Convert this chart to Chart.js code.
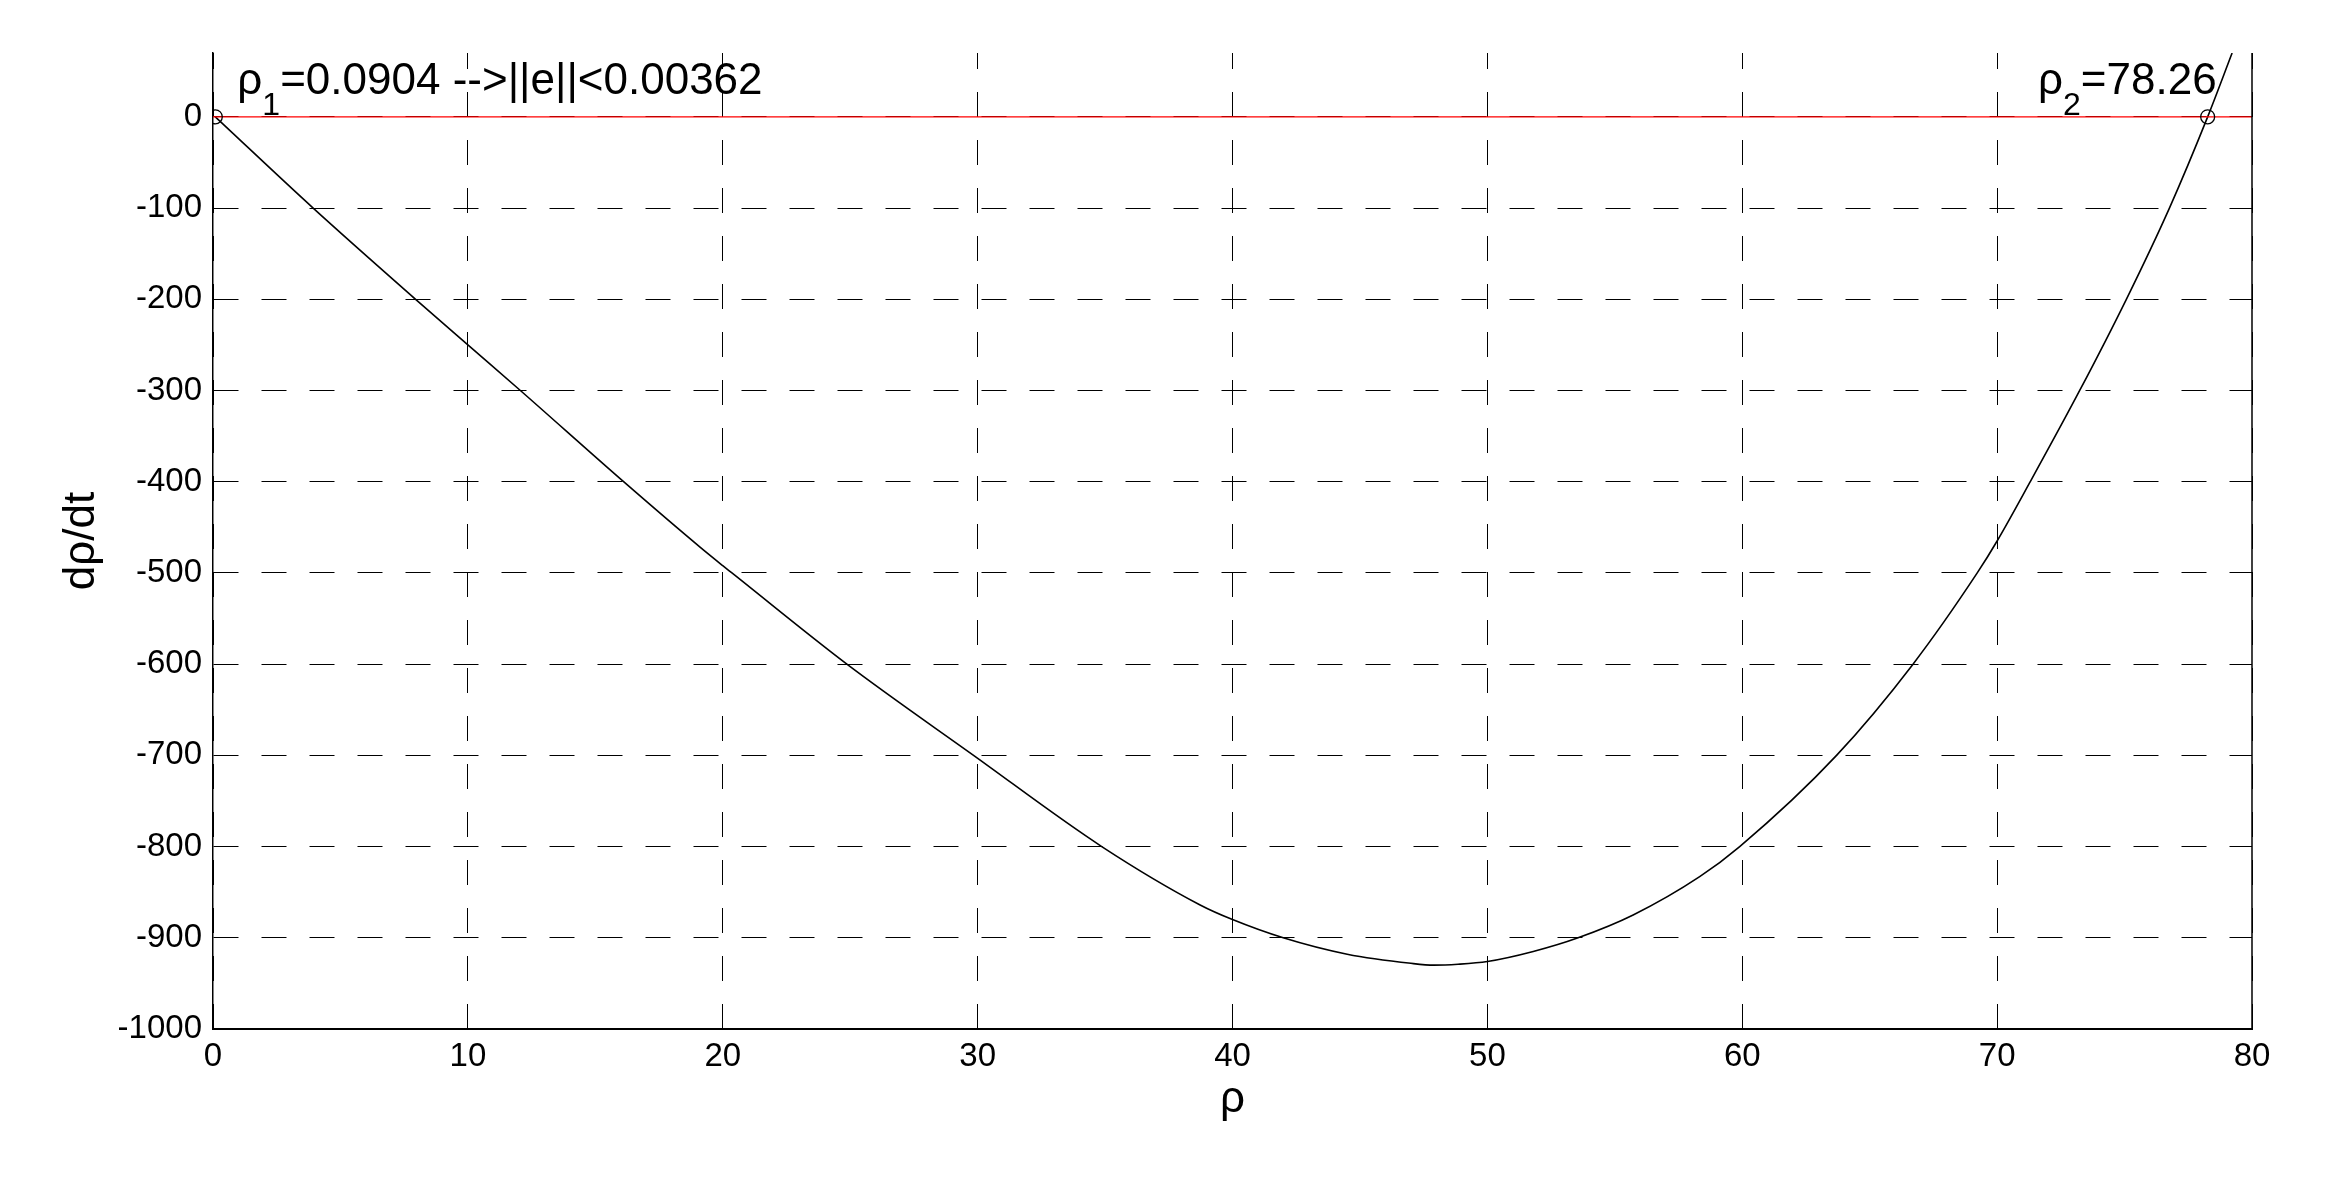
<!DOCTYPE html>
<html>
<head>
<meta charset="utf-8">
<script src="https://cdn.jsdelivr.net/npm/chart.js@4.4.1/dist/chart.umd.min.js"></script>
<style>
  html, body { margin: 0; padding: 0; background: #fff; }
  #wrap { width: 2335px; height: 1193px; position: relative; }
</style>
</head>
<body>
<div id="wrap"><canvas id="rhoChart"></canvas></div>
<script>
// values
const rho = [0.0904, 3.93, 7.95, 10, 12.06, 16.11, 19.12, 20, 20.36, 24.87, 29.84,
  34.87, 38.73, 40, 41.99, 44.5, 47.0, 47.9, 48.85, 50, 51.8, 53.56, 55.72, 58.33,
  59.9, 63.7, 66.70, 69.22, 70, 71.30, 73.24, 75.07, 76.76, 78.26, 79.22];
const dRho = [0, -100, -200, -250, -300, -400, -472, -492, -500, -600, -700,
  -800, -864, -880, -900, -918, -928, -930, -929, -926, -915, -900, -875, -833,
  -800, -700, -600, -500, -465, -400, -300, -200, -100, 0, 70];
const roots = [0.0904, 78.26];
const xTicks = [0, 10, 20, 30, 40, 50, 60, 70, 80];
const yTicks = [0, -100, -200, -300, -400, -500, -600, -700, -800, -900, -1000];
const yMax = 70;

const FONT = '"Liberation Sans", Arial, Helvetica, sans-serif';

const curve = rho.map((r, i) => ({ x: r, y: dRho[i] }));
const zeroLine = [{ x: xTicks[0], y: 0 }, { x: xTicks[xTicks.length - 1], y: 0 }];
const rootPts = roots.map(r => ({ x: r, y: 0 }));

// labels next to the roots + the right-hand frame line
const extras = {
  id: 'extras',
  afterDatasetsDraw(chart) {
    const { ctx, chartArea, scales } = chart;
    const xs = scales.x, ys = scales.y;
    const base = ys.getPixelForValue(0) - 23;
    const big = '44px ' + FONT, sub = '32px ' + FONT;

    ctx.save();
    ctx.fillStyle = '#000';
    ctx.textBaseline = 'alphabetic';
    ctx.textAlign = 'left';

    function label(x, head, idx, tail) {
      ctx.font = big; ctx.fillText(head, x, base); x += ctx.measureText(head).width;
      ctx.font = sub; ctx.fillText(idx, x, base + 21); x += ctx.measureText(idx).width;
      ctx.font = big; ctx.fillText(tail, x, base);
    }
    function width(head, idx, tail) {
      ctx.font = big; let w = ctx.measureText(head).width + ctx.measureText(tail).width;
      ctx.font = sub; return w + ctx.measureText(idx).width;
    }

    label(xs.getPixelForValue(roots[0]) + 22, 'ρ', '1', '=0.0904 -->||e||<0.00362');
    const t2 = '=' + roots[1].toFixed(2);
    label(xs.getPixelForValue(roots[1]) + 9 - width('ρ', '2', t2), 'ρ', '2', t2);

    ctx.strokeStyle = '#000';
    ctx.lineWidth = 1.5;
    ctx.beginPath();
    ctx.moveTo(chartArea.right, chartArea.top);
    ctx.lineTo(chartArea.right, chartArea.bottom);
    ctx.stroke();
    ctx.restore();
  }
};

new Chart(document.getElementById('rhoChart'), {
  type: 'line',
  data: {
    datasets: [
      { data: rootPts, showLine: false, pointStyle: 'circle', pointRadius: 7,
        pointBorderColor: '#000', pointBackgroundColor: 'rgba(0,0,0,0)', pointBorderWidth: 1.3, order: 0 },
      { data: zeroLine, borderColor: '#ff0000', borderWidth: 1.3, pointRadius: 0, order: 1 },
      { data: curve, borderColor: '#000', borderWidth: 1.6, pointRadius: 0,
        cubicInterpolationMode: 'monotone', order: 2 }
    ]
  },
  options: {
    responsive: true,
    maintainAspectRatio: false,
    animation: false,
    layout: { padding: { left: 0, top: 53, right: 83, bottom: 0 } },
    plugins: { legend: { display: false }, tooltip: { enabled: false } },
    scales: {
      x: {
        type: 'linear',
        min: xTicks[0], max: xTicks[xTicks.length - 1],
        afterBuildTicks: s => { s.ticks = xTicks.map(v => ({ value: v })); },
        afterFit: s => { s.height = 164; },
        grid: { color: '#000', lineWidth: 1, drawTicks: false },
        border: { display: true, color: '#000', width: 2, dash: [25, 23], dashOffset: 9 },
        ticks: { color: '#000', padding: 8, maxRotation: 0, callback: v => String(v),
          font: { family: FONT, size: 33 } },
        title: { display: true, text: 'ρ', color: '#000', padding: { top: 0, bottom: 67 },
          font: { family: FONT, size: 44 } }
      },
      y: {
        type: 'linear',
        min: yTicks[yTicks.length - 1], max: yMax,
        afterBuildTicks: s => { s.ticks = yTicks.map(v => ({ value: v })); },
        afterFit: s => { s.width = 213; },
        grid: { color: '#000', lineWidth: 1, drawTicks: false },
        border: { display: true, color: '#000', width: 1.5, dash: [25, 23], dashOffset: 0 },
        ticks: { color: '#000', padding: 11, callback: v => String(v),
          font: { family: FONT, size: 33 } },
        title: { display: true, text: 'dρ/dt', color: '#000', padding: { top: 55, bottom: 0 },
          font: { family: FONT, size: 44 } }
      }
    }
  },
  plugins: [extras]
});
</script>
</body>
</html>
